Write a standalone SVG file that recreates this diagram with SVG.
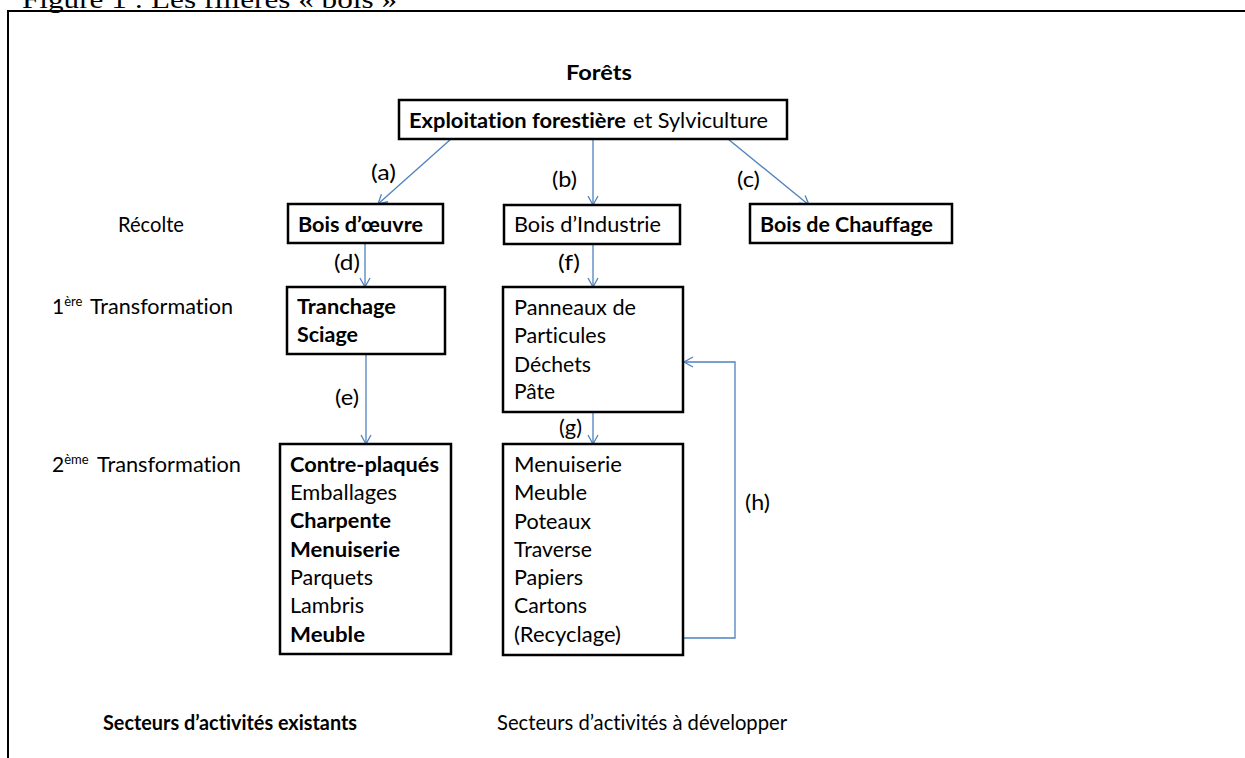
<svg xmlns="http://www.w3.org/2000/svg" width="1245" height="758" viewBox="0 0 1245 758">
<style>
.t{font-family:Lato,"Liberation Sans",sans-serif;font-size:21px;fill:#000;font-variant-ligatures:none}
.b{font-weight:bold}
.sup{font-size:13px}
.box{fill:#fff;stroke:#000;stroke-width:2.5}
.c{fill:none;stroke:#4F81BD;stroke-width:1.3}
.frame{fill:none;stroke:#000;stroke-width:2}
</style>
<defs>
<marker id="ah" markerUnits="userSpaceOnUse" markerWidth="12" markerHeight="12" refX="10" refY="6" orient="auto">
<path d="M1,1 L10,6 L1,11" fill="none" stroke="#4F81BD" stroke-width="1.3"/>
</marker>
</defs>
<rect width="1245" height="758" fill="#fff"/>
<text x="22" y="8" font-family="'Liberation Serif',serif" font-size="26" textLength="375" lengthAdjust="spacingAndGlyphs">Figure 1 : Les filières « bois »</text>
<path class="frame" d="M8,758 V11 H1245"/>

<g id="connectors">
<line class="c" x1="451" y1="139" x2="378" y2="204" marker-end="url(#ah)"/>
<line class="c" x1="593" y1="139" x2="593" y2="205" marker-end="url(#ah)"/>
<line class="c" x1="728" y1="139" x2="809" y2="205" marker-end="url(#ah)"/>
<line class="c" x1="365" y1="243" x2="365" y2="287" marker-end="url(#ah)"/>
<line class="c" x1="593" y1="244" x2="593" y2="287" marker-end="url(#ah)"/>
<line class="c" x1="366" y1="354" x2="366" y2="444" marker-end="url(#ah)"/>
<line class="c" x1="593" y1="412" x2="593" y2="444" marker-end="url(#ah)"/>
<polyline class="c" points="632,638 735,638 735,362 684,362" marker-end="url(#ah)"/>
<text class="t" x="371" y="180" textLength="25" lengthAdjust="spacingAndGlyphs">(a)</text>
<text class="t" x="552" y="187" textLength="25" lengthAdjust="spacingAndGlyphs">(b)</text>
<text class="t" x="737" y="187" textLength="23" lengthAdjust="spacingAndGlyphs">(c)</text>
<text class="t" x="334" y="270" textLength="26" lengthAdjust="spacingAndGlyphs">(d)</text>
<text class="t" x="558" y="270" textLength="22" lengthAdjust="spacingAndGlyphs">(f)</text>
<text class="t" x="335" y="405" textLength="24" lengthAdjust="spacingAndGlyphs">(e)</text>
<text class="t" x="559" y="435" textLength="23" lengthAdjust="spacingAndGlyphs">(g)</text>
<text class="t" x="745" y="510" textLength="25" lengthAdjust="spacingAndGlyphs">(h)</text>
</g>

<g id="forets">
<text class="t b" x="566" y="80" textLength="66" lengthAdjust="spacingAndGlyphs">Forêts</text>
</g>

<g id="exploitation">
<rect class="box" x="399" y="100" width="388" height="39"/>
<text class="t b" x="409" y="128" textLength="217" lengthAdjust="spacingAndGlyphs">Exploitation forestière</text>
<text class="t" x="633" y="128" textLength="135" lengthAdjust="spacingAndGlyphs">et Sylviculture</text>
</g>

<g id="labels">
<text class="t" x="118" y="232" textLength="66" lengthAdjust="spacingAndGlyphs">Récolte</text>
<text class="t" x="52" y="314">1<tspan class="sup" dy="-8">ère</tspan><tspan x="90" dy="8" textLength="143" lengthAdjust="spacingAndGlyphs">Transformation</tspan></text>
<text class="t" x="52" y="472">2<tspan class="sup" dy="-8">ème</tspan><tspan x="97" dy="8" textLength="144" lengthAdjust="spacingAndGlyphs">Transformation</tspan></text>
<text class="t b" x="103" y="730" textLength="254" lengthAdjust="spacingAndGlyphs">Secteurs d’activités existants</text>
<text class="t" x="497" y="730" textLength="290" lengthAdjust="spacingAndGlyphs">Secteurs d’activités à développer</text>
</g>

<g id="bois-oeuvre">
<rect class="box" x="288" y="204" width="155" height="39"/>
<text class="t b" x="298" y="232" textLength="125" lengthAdjust="spacingAndGlyphs">Bois d’œuvre</text>
</g>

<g id="bois-industrie">
<rect class="box" x="504" y="205" width="176" height="39"/>
<text class="t" x="514" y="232" textLength="147" lengthAdjust="spacingAndGlyphs">Bois d’Industrie</text>
</g>

<g id="bois-chauffage">
<rect class="box" x="750" y="204" width="202" height="39"/>
<text class="t b" x="760" y="232" textLength="173" lengthAdjust="spacingAndGlyphs">Bois de Chauffage</text>
</g>

<g id="tranchage">
<rect class="box" x="287" y="287" width="158" height="67"/>
<text class="t b" x="297" y="314" textLength="99" lengthAdjust="spacingAndGlyphs">Tranchage</text>
<text class="t b" x="297" y="342" textLength="61" lengthAdjust="spacingAndGlyphs">Sciage</text>
</g>

<g id="panneaux">
<rect class="box" x="503" y="287" width="180" height="125"/>
<text class="t" x="514" y="315" textLength="122" lengthAdjust="spacingAndGlyphs">Panneaux de</text>
<text class="t" x="514" y="343" textLength="92" lengthAdjust="spacingAndGlyphs">Particules</text>
<text class="t" x="514" y="372" textLength="77" lengthAdjust="spacingAndGlyphs">Déchets</text>
<text class="t" x="514" y="399" textLength="41" lengthAdjust="spacingAndGlyphs">Pâte</text>
</g>

<g id="deuxieme-existants">
<rect class="box" x="280" y="444" width="171" height="210"/>
<text class="t b" x="290" y="472" textLength="149" lengthAdjust="spacingAndGlyphs">Contre-plaqués</text>
<text class="t" x="290" y="500" textLength="107" lengthAdjust="spacingAndGlyphs">Emballages</text>
<text class="t b" x="290" y="528" textLength="101" lengthAdjust="spacingAndGlyphs">Charpente</text>
<text class="t b" x="290" y="557" textLength="110" lengthAdjust="spacingAndGlyphs">Menuiserie</text>
<text class="t" x="290" y="585" textLength="83" lengthAdjust="spacingAndGlyphs">Parquets</text>
<text class="t" x="290" y="613" textLength="74" lengthAdjust="spacingAndGlyphs">Lambris</text>
<text class="t b" x="290" y="642" textLength="75" lengthAdjust="spacingAndGlyphs">Meuble</text>
</g>

<g id="deuxieme-developper">
<rect class="box" x="503" y="444" width="180" height="211"/>
<text class="t" x="514" y="472" textLength="108" lengthAdjust="spacingAndGlyphs">Menuiserie</text>
<text class="t" x="514" y="500" textLength="73" lengthAdjust="spacingAndGlyphs">Meuble</text>
<text class="t" x="514" y="529" textLength="77" lengthAdjust="spacingAndGlyphs">Poteaux</text>
<text class="t" x="514" y="557" textLength="78" lengthAdjust="spacingAndGlyphs">Traverse</text>
<text class="t" x="514" y="585" textLength="69" lengthAdjust="spacingAndGlyphs">Papiers</text>
<text class="t" x="514" y="613" textLength="73" lengthAdjust="spacingAndGlyphs">Cartons</text>
<text class="t" x="514" y="642" textLength="107" lengthAdjust="spacingAndGlyphs">(Recyclage)</text>
</g>
</svg>
